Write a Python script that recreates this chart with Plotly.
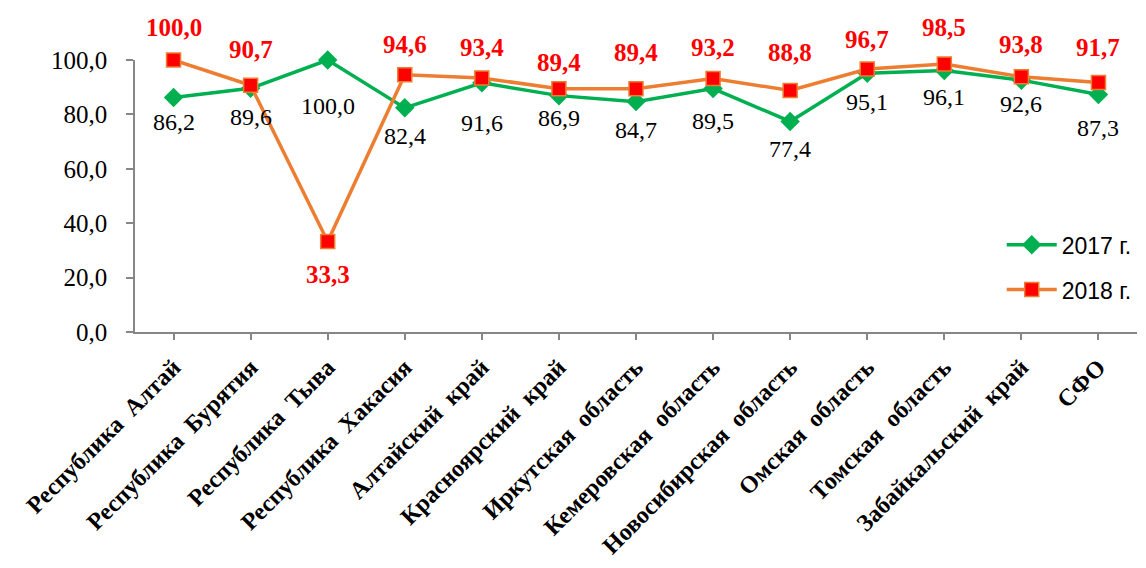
import plotly.graph_objects as go

# Regions of the Siberian Federal District
regions = [
    "Республика  Алтай", "Республика  Бурятия", "Республика  Тыва",
    "Республика  Хакасия", "Алтайский  край", "Красноярский  край",
    "Иркутская  область", "Кемеровская  область", "Новосибирская  область",
    "Омская  область", "Томская  область", "Забайкальский  край", "СФО",
]

values_2017 = [86.2, 89.6, 100.0, 82.4, 91.6, 86.9, 84.7, 89.5, 77.4, 95.1, 96.1, 92.6, 87.3]
values_2018 = [100.0, 90.7, 33.3, 94.6, 93.4, 89.4, 89.4, 93.2, 88.8, 96.7, 98.5, 93.8, 91.7]

# vertical offsets (px) of the value labels relative to their points
shift_2017 = [-24, -29, -46, -28, -40, -22, -28, -32, -28, -29, -26, -24, -33]
shift_2018 = [33, 36, -33, 30, 30, 26, 36, 31, 38, 29, 37, 32, 35]

GREEN = "#00B050"
ORANGE = "#ED7D31"
RED = "#FF0000"
AXIS = "#868686"
SERIF = "Liberation Serif"
SANS = "Liberation Sans"


def fmt(v):
    return f"{v:.1f}".replace(".", ",")


def tick_text(s):
    return s.replace("  ", "\u00a0\u00a0")


x = list(range(len(regions)))

fig = go.Figure()
fig.add_trace(go.Scatter(
    x=x, y=values_2017, name="2017 г.", mode="lines+markers",
    line=dict(color=GREEN, width=3.5),
    marker=dict(symbol="diamond", size=15, color=GREEN),
    cliponaxis=False, legendgroup="a",
))
fig.add_trace(go.Scatter(
    x=x, y=values_2018, name="2018 г.", mode="lines+markers",
    line=dict(color=ORANGE, width=3.5),
    marker=dict(symbol="square", size=14, color=RED, line=dict(color=ORANGE, width=1.5)),
    cliponaxis=False, legendgroup="b",
))

annotations = []
for i, (v, s) in enumerate(zip(values_2017, shift_2017)):
    annotations.append(dict(
        x=i, y=v, text=fmt(v), showarrow=False, yshift=s,
        font=dict(family=SERIF, size=24, color="black"),
    ))
for i, (v, s) in enumerate(zip(values_2018, shift_2018)):
    annotations.append(dict(
        x=i, y=v, text=f"<b>{fmt(v)}</b>", showarrow=False, yshift=s,
        font=dict(family=SERIF, size=25, color=RED),
    ))

fig.update_layout(
    width=1146, height=568,
    margin=dict(l=135, r=9, t=60, b=232),
    paper_bgcolor="white", plot_bgcolor="white",
    annotations=annotations,
    showlegend=True,
    legend=dict(
        x=0.865, y=0.40, xanchor="left", yanchor="top",
        font=dict(family=SANS, size=23, color="black"),
        bgcolor="rgba(0,0,0,0)", traceorder="grouped", tracegroupgap=12,
        itemwidth=50,
    ),
    xaxis=dict(
        range=[-0.5, len(regions) - 0.5],
        tickmode="array", tickvals=x,
        ticktext=[f"<b>{tick_text(r)}</b>" for r in regions],
        tickangle=-45, tickson="boundaries",
        ticks="outside", ticklen=6, tickcolor=AXIS, tickwidth=1.5,
        showline=True, linecolor=AXIS, linewidth=1.5,
        showgrid=False, zeroline=False,
        tickfont=dict(family=SERIF, size=24, color="black"),
        ticklabelstandoff=4,
    ),
    yaxis=dict(
        range=[0, 100], tickvals=[0, 20, 40, 60, 80, 100],
        ticktext=[fmt(v) for v in [0, 20, 40, 60, 80, 100]],
        ticks="outside", ticklen=7, tickcolor=AXIS, tickwidth=1.5,
        showline=True, linecolor=AXIS, linewidth=1.5,
        showgrid=False, zeroline=False,
        tickfont=dict(family=SERIF, size=25, color="black"),
        ticklabelstandoff=14,
    ),
)

fig.write_html("out.html")
